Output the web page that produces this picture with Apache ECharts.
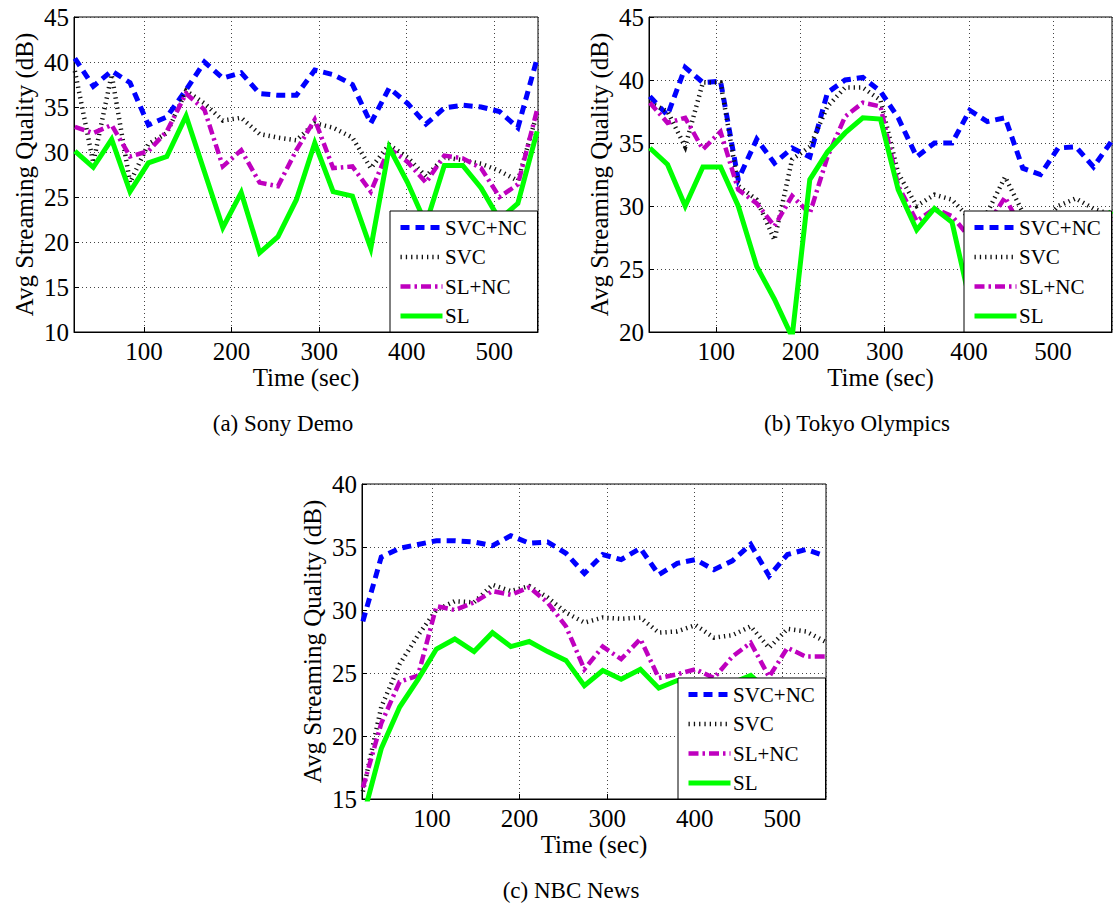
<!DOCTYPE html>
<html><head><meta charset="utf-8">
<script src="https://cdn.jsdelivr.net/npm/echarts@6/dist/echarts.min.js"></script>
<style>html,body{margin:0;padding:0;background:#fff}#c{width:1114px;height:907px}</style>
</head><body><div id="c"></div>
<script>
// ---- data ----
const seriesNames = ['SVC+NC', 'SVC', 'SL+NC', 'SL'];
const captions = ['(a) Sony Demo', '(b) Tokyo Olympics', '(c) NBC News'];
const xLabel = 'Time (sec)';
const yLabel = 'Avg Streaming Quality (dB)';

const timesAC = [21,42,63,84,105,126,148,169,190,211,232,253,274,295,316,338,359,380,401,422,443,464,485,506,527,549];
const timesB  = [21,42,63,84,105,126,148,169,190,211,232,253,274,295,316,338,359,380,401,422,443,464,485,506,527,548,569];

const xRangeA = [20, 550], yRangeA = [10, 45];
const xRangeB = [20, 570], yRangeB = [20, 45];
const xRangeC = [20, 550], yRangeC = [15, 40];

// (a) Sony Demo
const svcncA = [40.4,37.3,39.0,37.7,33.0,33.9,36.9,40.0,38.2,38.8,36.5,36.3,36.3,39.1,38.6,37.5,33.2,37.1,35.4,33.1,34.9,35.2,35.0,34.5,32.7,40.4];
const svcA   = [39.0,28.8,38.6,26.6,30.9,32.1,36.8,35.4,33.5,33.8,32.0,31.6,31.3,33.2,32.7,31.6,28.2,30.8,29.4,27.3,29.4,29.1,28.7,27.9,26.8,34.3];
const slncA  = [32.8,32.1,33.0,29.5,30.1,32.3,36.5,34.7,28.4,30.2,26.6,26.2,30.2,33.6,28.2,28.4,25.6,30.4,28.9,26.6,29.6,29.3,28.2,25.0,26.4,34.7];
const slA    = [30.1,28.3,31.4,25.6,28.8,29.5,34.0,27.8,21.6,25.5,18.8,20.6,24.7,31.0,25.6,25.1,19.3,30.5,26.6,22.0,28.5,28.5,26.0,22.5,24.3,32.3];

// (b) Tokyo Olympics
const svcncB = [38.7,37.2,41.0,39.8,39.9,32.1,35.3,33.4,34.6,33.9,39.0,40.0,40.2,39.1,37.0,33.9,35.0,35.0,37.6,36.7,37.0,33.0,32.5,34.6,34.7,33.1,35.1];
const svcB   = [38.2,37.5,34.7,39.8,39.8,31.6,30.5,27.3,33.7,34.7,37.9,39.4,39.4,38.4,32.6,30.0,30.9,30.5,29.0,29.5,32.3,29.5,28.5,30.0,30.6,29.8,29.3];
const slncB  = [38.2,36.6,37.0,34.5,35.9,31.3,30.2,28.4,30.8,29.4,33.9,37.1,38.2,37.9,31.6,28.8,29.8,29.2,27.5,28.5,30.7,28.0,27.5,28.3,28.5,28.0,29.0];
const slB    = [34.6,33.3,30.0,33.1,33.1,30.0,25.2,22.6,19.6,32.1,34.3,35.8,37.0,36.9,31.3,28.1,29.8,28.7,22.5,23.5,25.0,24.0,24.5,25.5,26.5,27.5,29.6];

// (c) NBC News
const svcncC = [29.1,34.2,34.9,35.2,35.5,35.5,35.4,35.1,35.9,35.3,35.4,34.5,32.9,34.4,34.0,34.9,32.8,33.7,34.0,33.2,33.9,35.2,32.7,34.4,34.8,34.3];
const svcC   = [15.6,22.3,25.7,28.0,30.0,30.7,30.6,32.0,31.5,31.9,31.0,29.8,29.0,29.4,29.3,29.4,28.2,28.3,28.8,27.8,28.0,28.7,27.0,28.5,28.3,27.5];
const slncC  = [15.9,21.0,24.3,24.8,30.3,30.0,30.6,31.5,31.2,31.8,30.6,28.7,25.3,27.1,26.1,27.7,24.6,24.9,25.3,24.6,26.3,27.4,24.7,27.0,26.3,26.3];
const slC    = [13.5,19.0,22.3,24.5,26.9,27.7,26.7,28.2,27.1,27.5,26.7,26.0,24.0,25.2,24.5,25.3,23.8,24.4,24.0,23.8,24.2,24.8,23.5,23.8,24.0,23.8];

// ---- presentation ----
const FONT = 'Liberation Serif';
const styles = {
  'SVC+NC': {color:'#0000ff', width:5,   type:[9,6],        cap:'butt', join:'miter'},
  'SVC':    {color:'#111111', width:4.5, type:[1.3,4],      cap:'butt', join:'miter'},
  'SL+NC':  {color:'#bf00bf', width:4.5, type:[10,4,2.5,4], cap:'butt', join:'miter'},
  'SL':     {color:'#00ff00', width:5,   type:'solid',      cap:'butt', join:'miter'}
};
const LEG_ICON = 42, LEG_PITCH = 29.5, LEG_FIRST = 16.5;
const panels = [
  {grid:{left:74, top:17, width:464, height:315}, xr:xRangeA, yr:yRangeA, t:timesAC, vals:[svcncA,svcA,slncA,slA], leg:{left:390, top:211}, cap:[283,423]},
  {grid:{left:649, top:17, width:463, height:315}, xr:xRangeB, yr:yRangeB, t:timesB, vals:[svcncB,svcB,slncB,slB], leg:{left:964, top:211}, cap:[857,423]},
  {grid:{left:362, top:484, width:464, height:315}, xr:xRangeC, yr:yRangeC, t:timesAC, vals:[svcncC,svcC,slncC,slC], leg:{left:678, top:678}, cap:[571,890]}
];

const grids=[], xAxes=[], yAxes=[], series=[], legends=[], graphics=[];
const split = {show:true, lineStyle:{type:[1,3], color:'#444', width:1}};
panels.forEach((p, gi) => {
  grids.push(Object.assign({show:true, borderColor:'#000', borderWidth:1, backgroundColor:'transparent'}, p.grid));
  xAxes.push({
    type:'value', gridIndex:gi, min:p.xr[0], max:p.xr[1], splitNumber:5, minInterval:100, maxInterval:100,
    axisLine:{show:true, onZero:false, lineStyle:{color:'#000', width:1}},
    axisTick:{show:true, inside:true, length:5, lineStyle:{color:'#000'}},
    axisLabel:{showMinLabel:false, showMaxLabel:false, margin:7, fontFamily:FONT, fontSize:25, color:'#000'},
    splitLine:split,
    name:xLabel, nameLocation:'middle', nameGap:33,
    nameTextStyle:{fontFamily:FONT, fontSize:25, color:'#000'}
  });
  yAxes.push({
    type:'value', gridIndex:gi, min:p.yr[0], max:p.yr[1], interval:5,
    axisLine:{show:true, onZero:false, lineStyle:{color:'#000', width:1}},
    axisTick:{show:true, inside:true, length:5, lineStyle:{color:'#000'}},
    axisLabel:{margin:5, fontFamily:FONT, fontSize:25, color:'#000'},
    splitLine:split,
    name:yLabel, nameLocation:'middle', nameGap:37, nameRotate:90,
    nameTextStyle:{fontFamily:FONT, fontSize:25, color:'#000'}
  });
  seriesNames.forEach((n, si) => {
    series.push({
      type:'line', name:n, xAxisIndex:gi, yAxisIndex:gi, symbol:'none', showSymbol:false,
      color:styles[n].color, lineStyle:styles[n], clip:true, animation:false,
      data:p.t.map((tv, i) => [tv, p.vals[si][i]])
    });
  });
  // legend box + line samples from the legend component; labels as serif text on top
  legends.push({
    orient:'vertical', left:p.leg.left, top:p.leg.top, itemWidth:LEG_ICON, itemHeight:21, itemGap:12.7,
    padding:[8.1, 90, 7.6, 8],
    borderColor:'#000', borderWidth:1, backgroundColor:'#fff', borderRadius:0,
    selectedMode:false, data:seriesNames,
    formatter:() => '',
    lineStyle:{width:'inherit'},
    itemStyle:{opacity:0},
    textStyle:{fontSize:1, lineHeight:1}
  });
  seriesNames.forEach((n, k) => {
    graphics.push({
      type:'text', z:100, x:p.leg.left + 8 + LEG_ICON + 5,
      y:p.leg.top + LEG_FIRST + k * LEG_PITCH,
      style:{text:n, fontFamily:FONT, fontSize:21, fill:'#000',
             textAlign:'left', textVerticalAlign:'middle', align:'left', verticalAlign:'middle'}
    });
  });
  graphics.push({
    type:'text', x:p.cap[0], y:p.cap[1],
    style:{text:captions[gi], fontFamily:FONT, fontSize:23, fill:'#000',
           textAlign:'center', textVerticalAlign:'middle', align:'center', verticalAlign:'middle'}
  });
});

const chart = echarts.init(document.getElementById('c'), null, {renderer:'svg'});
chart.setOption({
  animation:false, backgroundColor:'#fff', textStyle:{fontFamily:FONT},
  grid:grids, xAxis:xAxes, yAxis:yAxes, series:series, legend:legends, graphic:graphics
});
</script></body></html>
